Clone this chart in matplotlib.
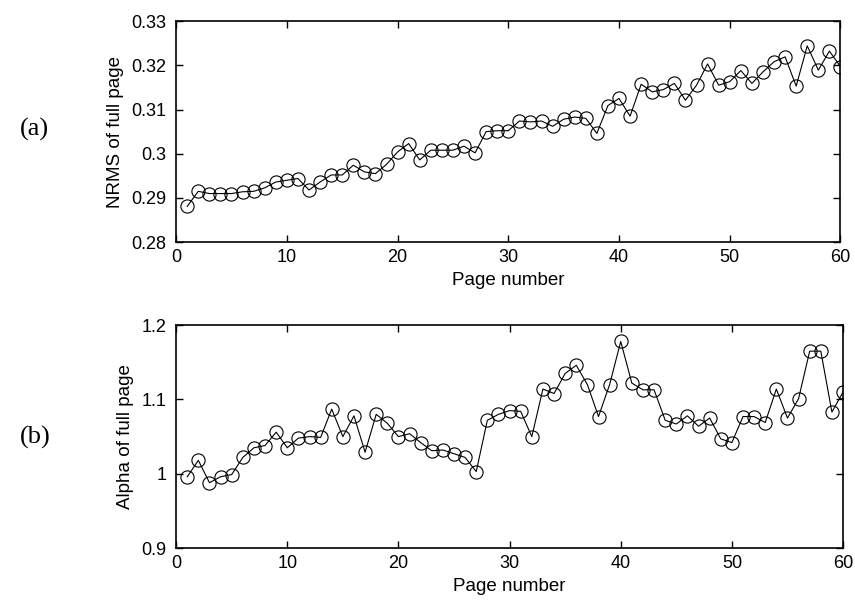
import matplotlib.pyplot as plt
import numpy as np

# page numbers 1..60
pages = list(range(1, 61))

# NRMS of full page (a)
nrms = [0.2881, 0.2915, 0.2910, 0.2910, 0.2910, 0.2914, 0.2915, 0.2923, 0.2936, 0.2940,
        0.2944, 0.2918, 0.2936, 0.2952, 0.2952, 0.2974, 0.2959, 0.2955, 0.2976, 0.3004,
        0.3023, 0.2986, 0.3008, 0.3008, 0.3008, 0.3017, 0.3002, 0.3050, 0.3052, 0.3052,
        0.3074, 0.3072, 0.3074, 0.3062, 0.3078, 0.3083, 0.3080, 0.3046, 0.3109, 0.3125,
        0.3085, 0.3157, 0.3140, 0.3145, 0.3159, 0.3121, 0.3155, 0.3203, 0.3155, 0.3163,
        0.3188, 0.3159, 0.3185, 0.3208, 0.3219, 0.3153, 0.3244, 0.3189, 0.3232, 0.3197]

# Alpha of full page (b)
alpha = [0.996, 1.018, 0.988, 0.996, 0.999, 1.022, 1.035, 1.038, 1.056, 1.035,
         1.048, 1.050, 1.049, 1.087, 1.050, 1.078, 1.029, 1.080, 1.068, 1.050,
         1.054, 1.042, 1.031, 1.032, 1.027, 1.022, 1.003, 1.072, 1.080, 1.085,
         1.084, 1.050, 1.114, 1.108, 1.135, 1.146, 1.120, 1.077, 1.120, 1.178,
         1.122, 1.113, 1.113, 1.072, 1.067, 1.078, 1.064, 1.075, 1.047, 1.042,
         1.077, 1.077, 1.069, 1.114, 1.075, 1.101, 1.165, 1.165, 1.083, 1.110]

xticks = [0, 10, 20, 30, 40, 50, 60]
a_ticks = [0.28, 0.29, 0.30, 0.31, 0.32, 0.33]
a_labels = ['0.28', '0.29', '0.3', '0.31', '0.32', '0.33']
b_ticks = [0.9, 1.0, 1.1, 1.2]
b_labels = ['0.9', '1', '1.1', '1.2']

plt.rcParams['font.family'] = ['Liberation Sans', 'DejaVu Sans']

fig = plt.figure(figsize=(8.55, 6.01), dpi=100)
ax1 = fig.add_axes([0.206, 0.597, 0.777, 0.368])
ax2 = fig.add_axes([0.206, 0.088, 0.780, 0.371])


def style(ax, y, yt, yl, ylab, lim):
    ax.plot(pages, y, color='black', lw=0.8, marker='o', ms=9.5,
            mfc='none', mec='black', mew=0.8)
    ax.set_xlim(0, 60)
    ax.set_ylim(*lim)
    ax.set_xticks(xticks)
    ax.set_yticks(yt)
    ax.set_yticklabels(yl)
    ax.tick_params(direction='in', top=True, right=True, labelsize=13,
                   length=5, width=1)
    ax.tick_params(axis='y', pad=7)
    ax.tick_params(axis='x', pad=5)
    for s in ax.spines.values():
        s.set_linewidth(1.2)
    ax.set_xlabel('Page number', fontsize=13.5, labelpad=4)
    ax.set_ylabel(ylab, fontsize=13.5, labelpad=5)


style(ax1, nrms, a_ticks, a_labels, 'NRMS of full page', (0.28, 0.33))
style(ax2, alpha, b_ticks, b_labels, 'Alpha of full page', (0.9, 1.2))

fig.text(0.023, 0.785, '(a)', fontsize=19, family='Liberation Serif', va='center')
fig.text(0.023, 0.272, '(b)', fontsize=19, family='Liberation Serif', va='center')

fig.savefig('out.png', dpi=100)
